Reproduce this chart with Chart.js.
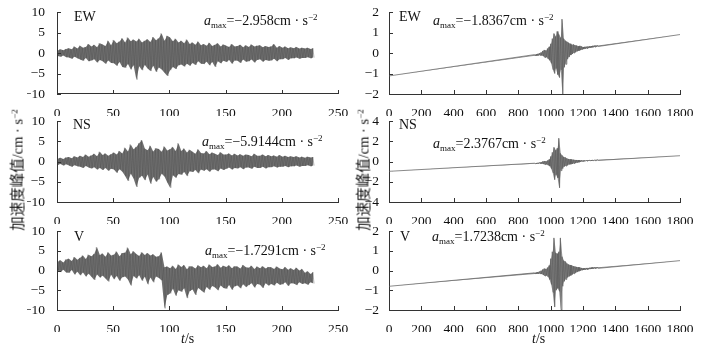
<!DOCTYPE html>
<html>
<head>
<meta charset="utf-8">
<script src="https://cdn.jsdelivr.net/npm/chart.js@4.4.1/dist/chart.umd.min.js"></script>
<style>
  html, body { margin: 0; padding: 0; background: #fff; }
  #wrap { position: relative; width: 706px; height: 348px; overflow: hidden; }
  #wrap canvas { position: absolute; left: 0; top: 0; }
  .lab { position: absolute; font-family: "Liberation Serif", "Times New Roman", serif; font-size: 14px; line-height: 14px; color: #111; white-space: nowrap; }
  .lab sub { font-size: 9px; vertical-align: -3px; line-height: 0; }
  .lab sup { font-size: 9px; vertical-align: 5px; line-height: 0; }
  .ylab { position: absolute; font-family: "Liberation Serif", "Noto Sans CJK SC", serif; font-size: 14.5px; line-height: 15px; color: #111; white-space: nowrap; transform: translate(-50%, -50%) rotate(-90deg); }
  .ylab sup { font-size: 9px; vertical-align: 5px; line-height: 0; }
</style>
</head>
<body>
<div id="wrap">
  <canvas id="c1" width="706" height="348"></canvas>
  <canvas id="c2" width="706" height="348"></canvas>
  <canvas id="c3" width="706" height="348"></canvas>
  <canvas id="c4" width="706" height="348"></canvas>
  <canvas id="c5" width="706" height="348"></canvas>
  <canvas id="c6" width="706" height="348"></canvas>

  <div class="lab" style="left:74px;top:10px">EW</div>
  <div class="lab" style="left:204px;top:14px"><i>a</i><sub>max</sub>=−2.958cm · s<sup>−2</sup></div>
  <div class="lab" style="left:399px;top:10px">EW</div>
  <div class="lab" style="left:433px;top:14px"><i>a</i><sub>max</sub>=−1.8367cm · s<sup>−2</sup></div>

  <div class="lab" style="left:73px;top:118px">NS</div>
  <div class="lab" style="left:202px;top:135px"><i>a</i><sub>max</sub>=−5.9144cm · s<sup>−2</sup></div>
  <div class="lab" style="left:399px;top:118px">NS</div>
  <div class="lab" style="left:433px;top:137px"><i>a</i><sub>max</sub>=2.3767cm · s<sup>−2</sup></div>

  <div class="lab" style="left:74px;top:230px">V</div>
  <div class="lab" style="left:205px;top:244px"><i>a</i><sub>max</sub>=−1.7291cm · s<sup>−2</sup></div>
  <div class="lab" style="left:400px;top:230px">V</div>
  <div class="lab" style="left:432px;top:230px"><i>a</i><sub>max</sub>=1.7238cm · s<sup>−2</sup></div>

  <div class="lab" style="left:181px;top:332px"><i>t</i>/s</div>
  <div class="lab" style="left:532px;top:332px"><i>t</i>/s</div>

  <div class="ylab" style="left:18px;top:170px">加速度峰值/cm · s<sup>−2</sup></div>
  <div class="ylab" style="left:364px;top:170px">加速度峰值/cm · s<sup>−2</sup></div>
</div>

<script>
// 左列：0-230 s 记录，每 2.5 s 一段的上/下包络
const leftBin = 2.5;

const ewLeftHi = [0.6, 0.9, 0.7, 1.0, 1.2, 0.9, 1.6, 1.1, 1.8, 1.3, 1.5, 2.2, 1.6, 2.0, 1.4, 2.4,
  2.1, 1.7, 3.0, 1.9, 3.2, 2.4, 2.8, 3.6, 2.6, 3.8, 2.9, 3.3, 2.8, 3.5, 2.6, 3.0,
  3.4, 2.7, 3.9, 3.1, 3.6, 4.8, 3.0, 4.2, 3.8, 2.9, 3.5, 2.6, 3.0, 2.4, 3.3, 2.2,
  2.6, 2.0, 2.8, 1.9, 2.2, 1.8, 2.5, 1.7, 2.0, 2.4, 1.6, 2.1, 1.8, 1.5, 2.2, 1.6,
  1.7, 2.0, 1.4, 1.9, 1.5, 2.1, 1.6, 1.8, 1.9, 1.4, 1.7, 1.5, 1.6, 2.2, 1.3, 1.7,
  1.3, 1.6, 1.2, 1.4, 1.2, 1.5, 1.1, 1.3, 1.1, 1.3, 1.0, 1.2];
const ewLeftLo = [-0.7, -0.9, -0.6, -1.0, -1.1, -1.4, -0.9, -1.3, -1.6, -1.9, -1.2, -2.0, -1.8, -1.5, -2.3, -1.7,
  -2.0, -2.6, -1.8, -2.4, -2.5, -3.1, -2.2, -3.4, -3.6, -2.7, -4.0, -3.0, -6.5, -3.2, -4.2, -2.9,
  -3.8, -4.4, -3.1, -4.6, -3.5, -4.0, -4.8, -5.6, -4.2, -3.4, -3.9, -3.0, -2.8, -3.3, -2.6, -3.1,
  -2.4, -2.9, -2.0, -2.6, -2.7, -2.1, -3.0, -2.2, -3.4, -2.0, -2.5, -1.9, -2.2, -1.7, -2.6, -1.8,
  -1.9, -2.4, -1.6, -2.1, -2.0, -1.6, -2.3, -1.7, -1.5, -2.1, -1.7, -1.9, -1.8, -1.4, -2.0, -1.5,
  -1.5, -1.2, -1.7, -1.3, -1.3, -1.1, -1.4, -1.2, -1.2, -1.0, -1.3, -1.1];

const nsLeftHi = [0.7, 0.9, 0.6, 1.0, 1.1, 0.8, 1.3, 1.0, 1.4, 1.1, 1.7, 1.2, 1.5, 1.9, 1.3, 2.4,
  1.6, 2.0, 1.4, 1.8, 2.2, 1.7, 2.6, 2.0, 3.4, 2.5, 4.2, 3.0, 3.6, 4.5, 5.3, 3.2,
  2.8, 3.9, 2.5, 3.3, 3.1, 2.4, 3.7, 2.7, 3.0, 3.6, 2.6, 4.5, 2.6, 3.2, 2.2, 2.9,
  2.4, 1.9, 3.0, 2.1, 2.0, 2.6, 1.8, 2.2, 1.9, 1.6, 2.3, 1.7, 1.7, 2.0, 1.5, 1.9,
  1.5, 1.8, 1.4, 1.7, 1.6, 1.3, 1.9, 1.4, 1.4, 1.7, 1.3, 1.6, 1.3, 1.5, 1.2, 1.6,
  1.2, 1.4, 1.1, 1.3, 1.1, 1.3, 1.0, 1.2, 0.9, 1.2, 1.0, 1.1];
const nsLeftLo = [-0.8, -0.6, -1.0, -0.7, -1.0, -1.3, -0.9, -1.2, -1.3, -1.6, -1.1, -1.5, -1.7, -1.4, -2.0, -1.6,
  -2.1, -1.6, -2.3, -1.8, -2.0, -2.8, -1.9, -2.5, -3.6, -4.8, -3.0, -4.2, -6.3, -4.0, -3.5, -4.6,
  -3.2, -5.5, -3.8, -5.0, -4.4, -3.0, -3.7, -5.2, -6.5, -3.4, -4.0, -3.1, -3.3, -2.6, -3.6, -2.4,
  -2.6, -2.1, -2.9, -2.0, -2.3, -1.9, -2.5, -2.0, -2.0, -2.4, -1.7, -2.1, -1.8, -1.5, -2.0, -1.6,
  -1.7, -1.4, -1.9, -1.5, -1.5, -1.8, -1.3, -1.6, -1.6, -1.3, -1.7, -1.4, -1.4, -1.2, -1.5, -1.3,
  -1.3, -1.1, -1.4, -1.2, -1.2, -1.0, -1.3, -1.1, -1.1, -0.9, -1.2, -1.0];

const vLeftHi = [2.2, 2.6, 2.0, 2.8, 3.0, 2.4, 3.4, 2.7, 3.2, 3.8, 2.9, 4.0, 3.6, 4.2, 5.9, 3.9,
  4.3, 3.5, 4.6, 3.8, 4.0, 4.8, 3.6, 4.4, 4.5, 5.8, 4.1, 4.9, 4.2, 3.7, 4.6, 3.9,
  4.4, 3.8, 4.1, 3.5, 3.6, 4.6, 0.8, 1.0, 0.6, 1.2, 0.4, 1.5, 0.9, 1.4, 0.3, 1.1,
  1.0, 0.5, 1.3, 0.8, 1.2, 0.6, 1.5, 0.9, 1.0, 1.6, 0.7, 1.2, 0.9, 1.3, 0.6, 1.1,
  1.0, 0.5, 1.4, 0.8, 0.7, 1.2, 0.4, 1.0, 0.6, 1.1, 0.5, 0.9, 0.8, 0.4, 1.0, 0.5,
  0.3, 0.9, 0.2, 0.6, 0.1, 0.7, 0.0, 0.4, -0.6, -0.2, -0.9, -0.4];
const vLeftLo = [0.0, -0.4, 0.2, -0.5, -0.6, 0.1, -1.0, -0.3, -1.2, -0.5, -1.5, -0.8, -1.6, -2.4, -1.0, -1.8,
  -1.3, -2.0, -2.8, -1.1, -2.2, -1.4, -2.6, -1.7, -1.5, -2.3, -3.8, -1.4, -2.0, -1.2, -2.6, -1.6,
  -3.5, -1.8, -3.0, -1.5, -1.9, -2.5, -9.6, -6.2, -5.8, -4.6, -6.4, -5.0, -5.4, -4.5, -7.0, -5.2,
  -4.8, -6.2, -4.4, -5.0, -5.6, -4.2, -4.9, -3.9, -4.3, -5.0, -3.8, -4.4, -4.6, -3.7, -4.9, -4.0,
  -3.8, -4.5, -3.5, -4.2, -3.7, -3.2, -4.3, -3.4, -3.6, -4.4, -3.2, -3.8, -3.4, -3.8, -3.1, -3.6,
  -3.5, -3.0, -3.9, -3.2, -3.3, -3.7, -3.0, -3.4, -3.2, -3.6, -3.0, -3.3];

// 右列：0-1800 s，漂移基线两端值 + 900-1300 s 每 10 s 的上/下包络
const trendTimes = [0, 1800];
const ewRightTrend = [-1.12, 0.9];
const nsRightTrend = [-0.97, 0.57];
const vRightTrend = [-0.8, 0.5];
const burstStart = 900;
const burstBin = 10;

const ewRightHi = [-0.08, -0.06, -0.04, -0.01, 0.03, 0.1, 0.15, 0.12, 0.22, 0.3,
  0.45, 0.7, 0.95, 0.8, 1.05, 0.9, 0.75, 1.65, 0.7, 0.6,
  0.55, 0.5, 0.45, 0.4, 0.42, 0.38, 0.36, 0.33, 0.35, 0.32,
  0.29, 0.3, 0.31, 0.32, 0.33, 0.34, 0.35, 0.36, 0.37, 0.37];
const ewRightLo = [-0.14, -0.13, -0.12, -0.11, -0.12, -0.15, -0.22, -0.2, -0.28, -0.35,
  -0.5, -0.8, -1.0, -0.75, -1.05, -1.2, -0.8, -2.0, -0.7, -0.55,
  -0.3, -0.2, -0.1, -0.05, 0.0, 0.04, 0.08, 0.11, 0.14, 0.16,
  0.19, 0.21, 0.22, 0.24, 0.25, 0.27, 0.28, 0.29, 0.31, 0.32];

const nsRightHi = [-0.17, -0.15, -0.13, -0.1, -0.06, 0.0, 0.05, 0.02, 0.1, 0.2,
  0.5, 0.9, 1.4, 1.1, 1.3, 2.3, 0.8, 0.6, 0.45, 0.4,
  0.3, 0.25, 0.22, 0.2, 0.18, 0.16, 0.15, 0.14, 0.13, 0.12,
  0.1, 0.11, 0.12, 0.13, 0.13, 0.14, 0.15, 0.16, 0.17, 0.17];
const nsRightLo = [-0.23, -0.22, -0.21, -0.2, -0.22, -0.25, -0.3, -0.28, -0.36, -0.45,
  -0.7, -1.1, -1.8, -1.3, -1.6, -2.6, -0.9, -0.7, -0.5, -0.45,
  -0.38, -0.3, -0.27, -0.24, -0.2, -0.16, -0.12, -0.08, -0.04, -0.01,
  0.01, 0.03, 0.04, 0.05, 0.06, 0.07, 0.08, 0.09, 0.1, 0.11];

const vRightHi = [-0.12, -0.1, -0.08, -0.05, -0.01, 0.05, 0.1, 0.08, 0.15, 0.25,
  0.6, 0.95, 1.65, 0.9, 0.85, 0.95, 1.65, 0.7, 0.5, 0.45,
  0.35, 0.3, 0.28, 0.25, 0.22, 0.2, 0.18, 0.17, 0.15, 0.13,
  0.11, 0.12, 0.13, 0.13, 0.14, 0.15, 0.16, 0.16, 0.17, 0.17];
const vRightLo = [-0.18, -0.17, -0.17, -0.16, -0.18, -0.22, -0.28, -0.25, -0.32, -0.45,
  -0.7, -1.1, -1.85, -1.0, -0.9, -1.05, -2.0, -0.8, -0.55, -0.45,
  -0.35, -0.3, -0.25, -0.2, -0.16, -0.12, -0.08, -0.04, -0.01, 0.01,
  0.03, 0.04, 0.05, 0.06, 0.07, 0.08, 0.09, 0.1, 0.11, 0.11];

// 坐标轴刻度
const leftXTicks = { max: 250, step: 50 };
const rightXTicks = { max: 1800, step: 200 };
const leftYTicks = { min: -10, max: 10, step: 5 };
const ewRightYTicks = { min: -2, max: 2, step: 1 };
const nsRightYTicks = { min: -4, max: 4, step: 2 };
const vRightYTicks = { min: -2, max: 2, step: 1 };

// 上下包络交替排列成折线
function zigzag(hi, lo, t0, bin) {
  const pts = [];
  hi.forEach((h, i) => {
    pts.push({ x: t0 + i * bin, y: h });
    pts.push({ x: t0 + i * bin + bin / 2, y: lo[i] });
  });
  return pts;
}

// 单条包络线（用于填充带）
function edge(vals, t0, bin) {
  return vals.map((v, i) => ({ x: t0 + i * bin + bin / 4, y: v }));
}

function withTrend(trend, pts) {
  return [{ x: trendTimes[0], y: trend[0] }].concat(pts, [{ x: trendTimes[1], y: trend[1] }]);
}

const minus = (v) => String(v).replace("-", "\u2212");
const tickFont = { family: "Liberation Serif", size: 13.5 };

// 向内的短刻度线
const innerTicks = {
  id: "innerTicks",
  afterDraw(chart) {
    const ctx = chart.ctx;
    const xs = chart.scales.x, ys = chart.scales.y;
    const a = chart.chartArea;
    ctx.save();
    ctx.strokeStyle = "#333";
    ctx.lineWidth = 1;
    ctx.beginPath();
    xs.ticks.forEach((t) => {
      const px = Math.round(xs.getPixelForValue(t.value)) + 0.5;
      ctx.moveTo(px, a.bottom);
      ctx.lineTo(px, a.bottom - 4);
    });
    ys.ticks.forEach((t) => {
      const py = Math.round(ys.getPixelForValue(t.value)) + 0.5;
      ctx.moveTo(a.left, py);
      ctx.lineTo(a.left + 4, py);
    });
    ctx.stroke();
    ctx.restore();
  },
};

function panel(id, area, xt, yt, wave, upper, lower, style) {
  const yW = 30, xH = 22;
  new Chart(document.getElementById(id), {
    type: "line",
    data: {
      datasets: [
        { data: wave, borderColor: style.line, borderWidth: style.width, borderJoinStyle: "bevel", pointRadius: 0, tension: 0, fill: false },
        { data: upper, borderWidth: 0, pointRadius: 0, tension: 0, fill: "+1", backgroundColor: style.fill },
        { data: lower, borderWidth: 0, pointRadius: 0, tension: 0, fill: false },
      ],
    },
    options: {
      responsive: false,
      animation: false,
      events: [],
      layout: {
        padding: { left: area.l - yW, right: 706 - area.r, top: area.t, bottom: 348 - area.b - xH },
      },
      plugins: { legend: { display: false }, tooltip: { enabled: false } },
      scales: {
        x: {
          type: "linear",
          min: 0,
          max: xt.max,
          afterFit: (s) => { s.height = xH; },
          grid: { display: false },
          border: { display: true, color: "#333", width: 1 },
          ticks: { stepSize: xt.step, padding: 3, color: "#111", font: tickFont, maxRotation: 0, autoSkip: false, callback: minus },
        },
        y: {
          min: yt.min,
          max: yt.max,
          afterFit: (s) => { s.width = yW; },
          grid: { display: false },
          border: { display: true, color: "#333", width: 1 },
          ticks: { stepSize: yt.step, padding: style.tickPad, color: "#111", font: tickFont, callback: minus },
        },
      },
    },
    plugins: [innerTicks],
  });
}

const rows = [{ t: 12, b: 94 }, { t: 121, b: 202 }, { t: 231, b: 310 }];
const leftCol = { l: 57, r: 338 };
const rightCol = { l: 389, r: 680 };
const leftStyle = { line: "rgba(75,75,75,0.6)", width: 0.6, fill: "rgba(55,55,55,0.72)", tickPad: 4 };
const rightStyle = { line: "rgba(95,95,95,0.9)", width: 0.8, fill: "rgba(70,70,70,0.6)", tickPad: 2 };

panel("c1", { ...leftCol, ...rows[0] }, leftXTicks, leftYTicks,
  zigzag(ewLeftHi, ewLeftLo, 0, leftBin), edge(ewLeftHi, 0, leftBin), edge(ewLeftLo, 0, leftBin), leftStyle);
panel("c3", { ...leftCol, ...rows[1] }, leftXTicks, leftYTicks,
  zigzag(nsLeftHi, nsLeftLo, 0, leftBin), edge(nsLeftHi, 0, leftBin), edge(nsLeftLo, 0, leftBin), leftStyle);
panel("c5", { ...leftCol, ...rows[2] }, leftXTicks, leftYTicks,
  zigzag(vLeftHi, vLeftLo, 0, leftBin), edge(vLeftHi, 0, leftBin), edge(vLeftLo, 0, leftBin), leftStyle);

panel("c2", { ...rightCol, ...rows[0] }, rightXTicks, ewRightYTicks,
  withTrend(ewRightTrend, zigzag(ewRightHi, ewRightLo, burstStart, burstBin)),
  withTrend(ewRightTrend, edge(ewRightHi, burstStart, burstBin)),
  withTrend(ewRightTrend, edge(ewRightLo, burstStart, burstBin)), rightStyle);
panel("c4", { ...rightCol, ...rows[1] }, rightXTicks, nsRightYTicks,
  withTrend(nsRightTrend, zigzag(nsRightHi, nsRightLo, burstStart, burstBin)),
  withTrend(nsRightTrend, edge(nsRightHi, burstStart, burstBin)),
  withTrend(nsRightTrend, edge(nsRightLo, burstStart, burstBin)), rightStyle);
panel("c6", { ...rightCol, ...rows[2] }, rightXTicks, vRightYTicks,
  withTrend(vRightTrend, zigzag(vRightHi, vRightLo, burstStart, burstBin)),
  withTrend(vRightTrend, edge(vRightHi, burstStart, burstBin)),
  withTrend(vRightTrend, edge(vRightLo, burstStart, burstBin)), rightStyle);
</script>
</body>
</html>
